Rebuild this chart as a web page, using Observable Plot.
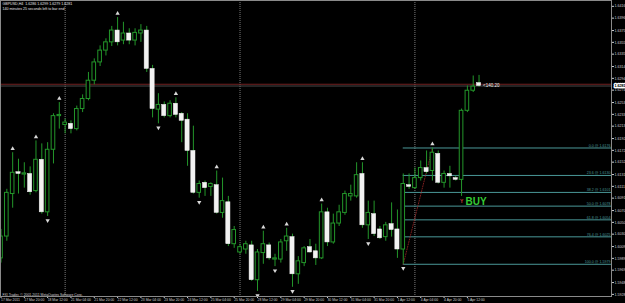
<!DOCTYPE html>
<html><head><meta charset="utf-8">
<script src="https://cdn.jsdelivr.net/npm/d3@7"></script>
<script src="https://cdn.jsdelivr.net/npm/@observablehq/plot@0.6"></script>
<style>html,body{margin:0;padding:0;background:#000;} svg{display:block;}</style>
</head><body><div id="chart"></div>
<script>
// ---- data (GBPUSD, H4) : bar index k = 0 .. 82 ----
const open = [1.5989,1.6026,1.6098,1.6135,1.6131,1.6132,1.6103,1.6156,1.6067,1.6173,
1.6230,1.6215,1.6217,1.6208,1.6242,1.6259,1.6290,1.6321,1.6341,1.6355,
1.6375,1.6358,1.6370,1.6358,1.6370,1.6375,1.6310,1.6241,1.6249,1.6230,
1.6251,1.6234,1.6224,1.6171,1.6100,1.6117,1.6110,1.6113,1.6066,1.6084,
1.6013,1.5999,1.6004,1.6011,1.5952,1.5998,1.6011,1.5987,1.5987,1.6018,
1.6025,1.5962,1.5981,1.6008,1.6001,1.5989,1.6067,1.6016,1.6048,1.6066,
1.6094,1.6094,1.6132,1.6045,1.6064,1.6038,1.6025,1.6047,1.6038,1.6004,
1.6113,1.6108,1.6125,1.6142,1.6137,1.6166,1.6117,1.6132,1.6125,1.6122,
1.6239,1.6273,1.6286];
const high = [1.6038,1.6106,1.6168,1.6157,1.6151,1.6144,1.6188,1.6183,1.6185,1.6234,
1.6253,1.6225,1.6222,1.6247,1.6266,1.6304,1.6327,1.6349,1.6361,1.6382,
1.6397,1.6389,1.6378,1.6378,1.6385,1.6382,1.6316,1.6268,1.6254,1.6256,
1.6261,1.6236,1.6234,1.6213,1.6120,1.6120,1.6117,1.6137,1.6125,1.6094,
1.6043,1.6013,1.6018,1.6018,1.6004,1.6035,1.6015,1.5996,1.6021,1.6040,
1.6030,1.5992,1.6009,1.6021,1.6013,1.6081,1.6074,1.6064,1.6079,1.6103,
1.6113,1.6151,1.6151,1.6086,1.6086,1.6043,1.6050,1.6083,1.6071,1.6132,
1.6132,1.6142,1.6154,1.6171,1.6176,1.6171,1.6137,1.6145,1.6128,1.6242,
1.6281,1.6298,1.6299];
const low = [1.5981,1.6018,1.6074,1.6098,1.6108,1.6096,1.6100,1.6064,1.6060,1.6149,
1.6208,1.6200,1.6200,1.6205,1.6236,1.6256,1.6283,1.6314,1.6332,1.6348,
1.6349,1.6351,1.6351,1.6349,1.6355,1.6304,1.6227,1.6217,1.6227,1.6227,
1.6227,1.6185,1.6145,1.6098,1.6091,1.6094,1.6094,1.6064,1.6057,1.6009,
1.6006,1.5996,1.5996,1.5950,1.5933,1.5979,1.5986,1.5975,1.5981,1.6001,
1.5940,1.5945,1.5975,1.5998,1.5977,1.5987,1.6009,1.6013,1.6043,1.6062,
1.6086,1.6091,1.6040,1.6021,1.6026,1.6021,1.6018,1.6025,1.5989,1.5979,
1.6106,1.6106,1.6120,1.6132,1.6120,1.6115,1.6108,1.6108,1.6120,1.6094,
1.6236,1.6270,1.6279];
const close = [1.6026,1.6100,1.6134,1.6132,1.6133,1.6101,1.6156,1.6067,1.6173,1.6230,
1.6232,1.6219,1.6208,1.6242,1.6259,1.6290,1.6321,1.6341,1.6355,1.6375,
1.6355,1.6370,1.6358,1.6371,1.6375,1.6310,1.6242,1.6249,1.6230,1.6251,
1.6232,1.6222,1.6171,1.6100,1.6115,1.6108,1.6115,1.6066,1.6086,1.6013,
1.6037,1.6008,1.6013,1.5952,1.5999,1.6013,1.5989,1.5989,1.6016,1.6026,
1.5962,1.5984,1.6006,1.5999,1.5989,1.6067,1.6016,1.6048,1.6067,1.6098,
1.6098,1.6130,1.6045,1.6066,1.6030,1.6023,1.6045,1.6037,1.6004,1.6115,
1.6110,1.6125,1.6142,1.6135,1.6168,1.6117,1.6132,1.6128,1.6122,1.6239,
1.6273,1.6280,1.6281];

const upFractalBars = [2,6,10,20,30,37,45,49,55,62,74];
const downFractalBars = [8,27,34,44,47,50,63,69];
const separatorBars = [11,41,71];

const timeTickBars = [0,4,8,12,16,20,24,28,32,36,40,44,48,52,56,60,64,68,72,76,80];
const timeLabels = ["17 Mar 2011","17 Mar 20:00","18 Mar 12:00","21 Mar 04:00","21 Mar 20:00",
"22 Mar 12:00","23 Mar 04:00","23 Mar 20:00","24 Mar 12:00","25 Mar 04:00","25 Mar 20:00",
"28 Mar 12:00","29 Mar 04:00","29 Mar 20:00","30 Mar 12:00","31 Mar 04:00","31 Mar 20:00",
"1 Apr 12:00","4 Apr 04:00","4 Apr 20:00","5 Apr 12:00"];
const priceTicks = [1.6416,1.6396,1.6375,1.6355,1.6335,1.6314,1.6294,1.6274,1.6253,1.6233,
1.6213,1.6192,1.6172,1.6152,1.6131,1.6111,1.6091,1.6070,1.6050,1.6030,1.6009,1.5989,
1.5969,1.5948,1.5928];

const fibLevels = [0, 23.6, 38.2, 50, 61.8, 76.4, 100];
const fibHigh = 1.6176, fibLow = 1.5979;
const fibStartBar = 69, fibHighBar = 74;
const bidPrice = 1.6281, askPrice = 1.6284;
const headerLines = ["GBPUSD,H4  1.6286 1.6299 1.6279 1.6281", "140 minutes 25 seconds left to bar end"];
const footerText = "FXI Trader, © 2001-2011 MetaQuotes Software Corp.";
const profitLabel = "<140.20";
const signalBar = 79, signalText = "BUY";

// visible window (bars incl. chart shift) and price range
const xDomain = [-0.086, 104.72];
const yDomain = [1.59244, 1.64259];

// ---- build ----
const rows = open.map((o, i) => ({k: i, o, h: high[i], l: low[i], c: close[i]}));
const bull = rows.filter(d => d.c >= d.o);
const bear = rows.filter(d => d.c < d.o);
const fibRows = fibLevels.map(level => ({level, price: fibHigh - (fibHigh - fibLow) * level / 100}));
const green = "#23962a";
const fibColor = "#4a9898";
const font = "Liberation Sans, Arial, sans-serif";

const chart = Plot.plot({
  width: 625, height: 303,
  marginTop: 0, marginLeft: 0, marginRight: 14, marginBottom: 7,
  style: {background: "#000", color: "#d6d6d6", fontFamily: font, fontSize: "3.6px"},
  x: {domain: xDomain},
  y: {domain: yDomain},
  marks: [
    Plot.ruleX(separatorBars, {stroke: "#9a9a9a", strokeDasharray: "1,1", strokeWidth: 0.8}),
    Plot.ruleY([askPrice], {stroke: "#8e2828", strokeWidth: 0.8}),
    Plot.ruleY([bidPrice], {stroke: "#5c5c5c", strokeWidth: 0.8}),
    Plot.ruleY(fibRows, {y: "price", x1: fibStartBar, x2: xDomain[1], stroke: fibColor, strokeWidth: 1}),
    Plot.text(fibRows, {x: xDomain[1], y: "price", text: d => `${d.level.toFixed(1)} @ ${d.price.toFixed(4)}`,
      textAnchor: "end", lineAnchor: "bottom", dx: -1, dy: -1, fontSize: 3.6, fill: fibColor}),
    Plot.line([{k: fibStartBar, p: fibLow}, {k: fibHighBar, p: fibHigh}],
      {x: "k", y: "p", stroke: "#9a2626", strokeDasharray: "1,1.5", strokeWidth: 0.8}),
    Plot.ruleX(rows, {x: "k", y1: "l", y2: "h", stroke: green, strokeWidth: 1}),
    Plot.rect(bear, {x1: d => d.k - 0.36, x2: d => d.k + 0.36, y1: "o", y2: "c",
      fill: "#f2f2f2", stroke: "#f2f2f2", strokeWidth: 0.5}),
    Plot.rect(bull, {x1: d => d.k - 0.31, x2: d => d.k + 0.31, y1: "o", y2: "c",
      fill: "#000", stroke: green, strokeWidth: 1}),
    Plot.dot(upFractalBars.map(k => ({k, p: high[k]})), {x: "k", y: "p", dy: -4,
      symbol: "triangle", r: 1.6, fill: "#d8d8d8", stroke: "none"}),
    Plot.dot(downFractalBars.map(k => ({k, p: low[k]})), {x: "k", y: "p", dy: 4, rotate: 180,
      symbol: "triangle", r: 1.6, fill: "#d8d8d8", stroke: "none"}),
    Plot.text([{k: signalBar, p: low[signalBar]}], {x: "k", y: "p", text: () => "Y", dy: 5,
      fontSize: 5, fontWeight: "bold", fill: "#d03a3a"}),
    Plot.text([{k: signalBar, p: low[signalBar]}], {x: "k", y: "p", text: () => signalText, dx: 4, dy: 5,
      textAnchor: "start", fontSize: 10, fontWeight: "bold", fill: "#35c935", fontFamily: font}),
    Plot.text([{k: rows.length - 1, p: bidPrice}], {x: "k", y: "p", text: () => profitLabel, dx: 4,
      textAnchor: "start", fontSize: 4.5, fill: "#eeeeee"}),
    Plot.text([headerLines[0]], {frameAnchor: "top-left", dx: 2, dy: 2, textAnchor: "start",
      lineAnchor: "top", fontSize: 3.6, fill: "#e6e6e6"}),
    Plot.text([headerLines[1]], {frameAnchor: "top-left", dx: 2, dy: 6.5, textAnchor: "start",
      lineAnchor: "top", fontSize: 3.6, fill: "#e6e6e6"}),
    Plot.text([footerText], {frameAnchor: "bottom-left", dx: 2, dy: -1, textAnchor: "start",
      lineAnchor: "bottom", fontSize: 3.4, fill: "#d0d0d0"}),
    Plot.axisY({anchor: "right", ticks: priceTicks, tickFormat: d => d.toFixed(4), tickSize: 2,
      tickPadding: 1, fontSize: 3.6, color: "#cfcfcf", label: null}),
    Plot.axisX({anchor: "bottom", ticks: timeTickBars, tickFormat: d => timeLabels[timeTickBars.indexOf(d)],
      textAnchor: "start", tickSize: 2, tickPadding: 0.5, fontSize: 3.4, color: "#cfcfcf", label: null}),
    Plot.text([bidPrice], {x: xDomain[1], y: d => d, text: d => d.toFixed(4), dx: 3, textAnchor: "start",
      fill: "#000", stroke: "#ffffff", strokeWidth: 2.5, paintOrder: "stroke", fontSize: 3.6}),
    Plot.text([bidPrice], {x: xDomain[1], y: d => d, text: d => d.toFixed(4), dx: 3, textAnchor: "start",
      fill: "#000", fontSize: 3.6}),
    Plot.frame({stroke: "#8a8a8a"})
  ]
});
document.getElementById("chart").append(chart);
</script>
</body></html>
